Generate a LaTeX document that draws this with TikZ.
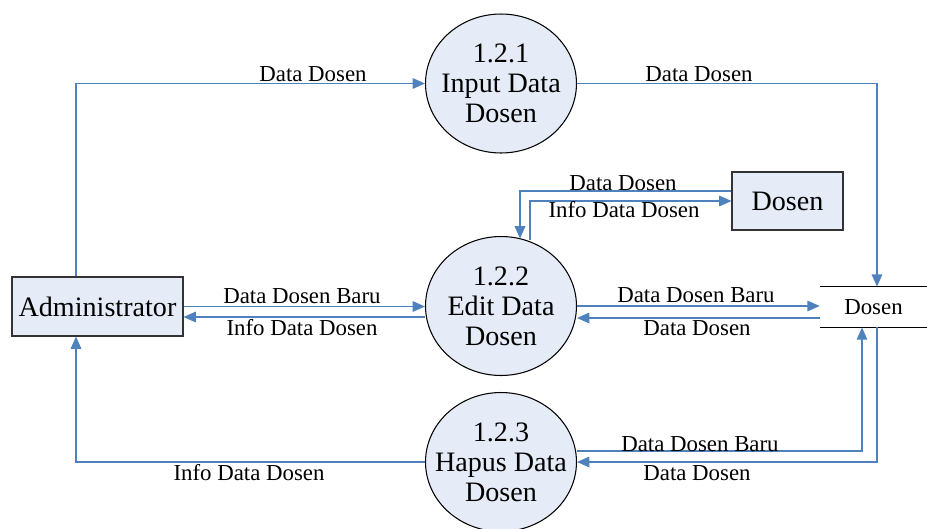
\documentclass[tikz,border=0pt]{standalone}
\usepackage{fontspec}
\setmainfont{Liberation Serif}
\usetikzlibrary{shapes.geometric,arrows.meta}
\definecolor{flowblue}{RGB}{79,129,189}
\definecolor{boxfill}{RGB}{230,236,247}
\tikzset{
	procnode/.style={ellipse, draw=black, line width=0.6pt, fill=boxfill, minimum width=3.02cm, minimum height=2.78cm, inner sep=0pt},
	proctext/.style={align=center, inner sep=0pt, font=\fontsize{16}{17}\selectfont},
	entnode/.style={rectangle, draw=black!80, line width=0.6pt, fill=boxfill, inner sep=0pt, font=\fontsize{16}{19}\selectfont},
	storenode/.style={rectangle, minimum width=2.14cm, minimum height=0.8cm, inner sep=0pt, font=\fontsize{13}{15}\selectfont},
	flow/.style={draw=flowblue, line width=0.8pt, -{Triangle[length=7pt,width=6pt]}},
	lbl/.style={inner sep=0pt, font=\fontsize{13}{15}\selectfont},
}

\begin{document}
\begin{tikzpicture}[x=0.02cm, y=-0.02cm]% {{{ DFD level 2: kelola data dosen
	\useasboundingbox (0,0) rectangle (927,528);

	% processes and entities
	\node[procnode] (p1) at (501,83.5) {};
	\node[proctext] (p1t) at (p1) {1.2.1\\Input Data\\Dosen};
	\node[procnode] (p2) at (501,306) {};
	\node[proctext] (p2t) at (p2) {1.2.2\\Edit Data\\Dosen};
	\node[procnode] (p3) at (501,462) {};
	\node[proctext] (p3t) at (p3) {1.2.3\\Hapus Data\\Dosen};
	\node[entnode, minimum width=3.42cm, minimum height=1.18cm] (admin) at (97.5,306.5) {Administrator};
	\node[entnode, minimum width=2.22cm, minimum height=1.16cm] (dosen) at (787.5,201) {Dosen};
	\node[storenode] (store) at (873.5,307) {Dosen};
	\draw[line width=0.6pt] (store.north west) -- (store.north east);
	\draw[line width=0.6pt] (store.south west) -- (store.south east);

	% input
	\draw[flow] ([xshift=-0.43cm]admin.north) |- (p1.west);
	\draw[flow] (p1.east) -| ([xshift=0.07cm]store.north);
	\node[lbl] (l1) at (313,74) {Data Dosen};
	\node[lbl] (l2) at (699,74) {Data Dosen};

	% edit
	\draw[flow] ([yshift=0.2cm]dosen.west) -| ([xshift=0.38cm,yshift=-0.05cm]p2.north);
	\draw[flow] ([xshift=0.58cm,yshift=-0.08cm]p2.north) |- (dosen.west);
	\node[lbl] (l3) at (623,183) {Data Dosen};
	\node[lbl] (l4) at (624,210) {Info Data Dosen};

	\draw[flow] (admin.east) -- (admin.east -| p2.west);
	\draw[flow] ([yshift=-0.22cm]p2.west) -- ([yshift=-0.22cm]p2.west -| admin.east);
	\node[lbl] (l5) at (302,296) {Data Dosen Baru};
	\node[lbl] (l6) at (302,328) {Info Data Dosen};

	\draw[flow] (p2.east) -- (p2.east -| store.west);
	\draw[flow] ([yshift=-0.22cm]store.west) -- ([yshift=-0.22cm]store.west -| p2.east);
	\node[lbl] (l7) at (696,295) {Data Dosen Baru};
	\node[lbl] (l8) at (697,328) {Data Dosen};

	% hapus
	\draw[flow] ([yshift=0.22cm]p3.east) -| ([xshift=-0.23cm]store.south);
	\draw[flow] ([xshift=0.07cm]store.south) |- (p3.east);
	\draw[flow] (p3.west) -| ([xshift=-0.43cm]admin.south);
	\node[lbl] (l9) at (700,444) {Data Dosen Baru};
	\node[lbl] (l10) at (697,473) {Data Dosen};
	\node[lbl] (l11) at (249,473) {Info Data Dosen};
\end{tikzpicture}
\end{document}
